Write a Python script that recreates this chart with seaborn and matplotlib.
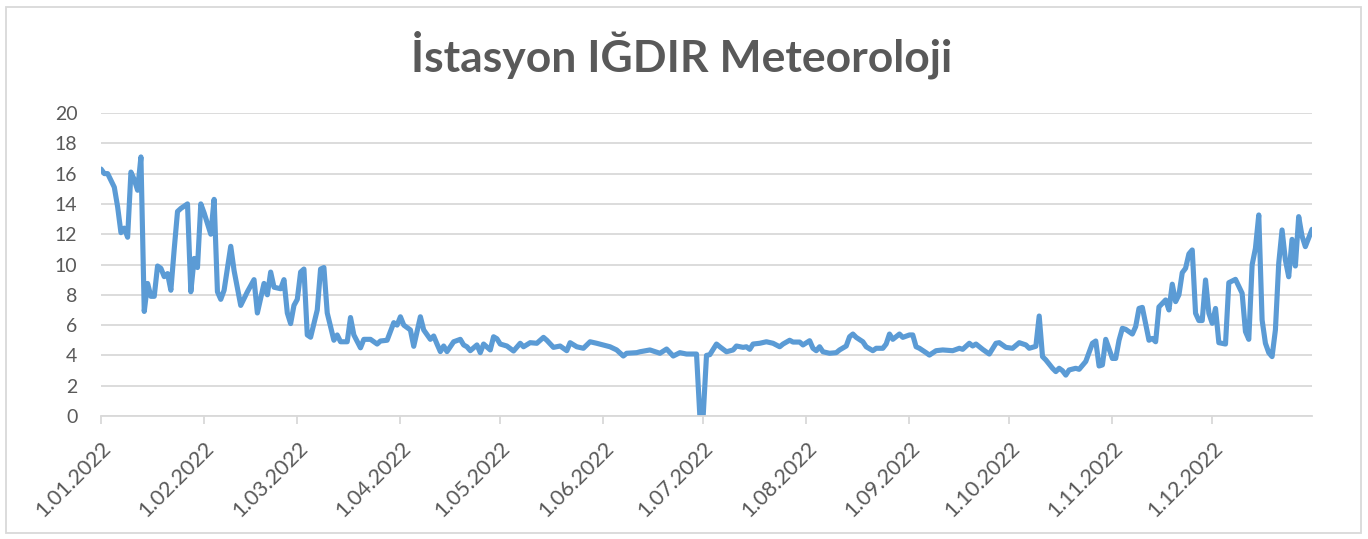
import matplotlib
matplotlib.use("Agg")
import matplotlib.pyplot as plt
import matplotlib.dates as mdates
import matplotlib.patches as patches
import seaborn as sns
import pandas as pd
import numpy as np

title = "İstasyon IĞDIR Meteoroloji"

day_offsets = [0, 1, 2, 4, 5, 6, 7, 8, 9, 10, 11, 12, 13, 14, 15, 16, 17, 18, 19, 20,
               21, 22, 23, 24, 26, 27, 28, 29, 30, 31, 33, 34, 35, 36, 37, 39, 40, 42, 44, 46,
               47, 49, 50, 51, 52, 54, 55, 56, 57, 58, 59, 60, 61, 62, 63, 65, 66, 67, 68, 70,
               71, 72, 74, 75, 76, 78, 79, 81, 83, 84, 86, 88, 89, 90, 91, 93, 94, 96, 97, 99,
               100, 101, 102, 103, 104, 106, 108, 109, 110, 111, 113, 114, 115, 117, 118, 119, 120, 122, 124, 126,
               127, 129, 131, 133, 134, 136, 138, 140, 141, 143, 145, 147, 149, 153, 155, 157, 158, 161, 162, 165,
               168, 170, 172, 174, 176, 179, 180, 181, 182, 183, 185, 186, 188, 190, 191, 193, 194, 195, 196, 198,
               200, 202, 204, 205, 207, 208, 210, 211, 213, 214, 215, 216, 217, 219, 221, 222, 224, 225, 226, 227,
               229, 230, 232, 233, 235, 236, 237, 238, 240, 241, 243, 244, 245, 246, 248, 249, 251, 253, 256, 258,
               259, 261, 262, 263, 265, 267, 269, 270, 272, 274, 276, 278, 279, 281, 282, 283, 284, 286, 287, 288,
               289, 290, 291, 293, 294, 296, 298, 299, 300, 301, 302, 304, 305, 306, 307, 308, 310, 311, 312, 313,
               315, 316, 317, 318, 320, 321, 322, 323, 324, 325, 326, 327, 328, 329, 330, 331, 332, 333, 334, 335,
               336, 338, 339, 341, 343, 344, 345, 346, 347, 348, 349, 350, 351, 352, 353, 354, 355, 356, 357, 358,
               359, 360, 361, 362, 364]

values = [16.3, 16.0, 16.0, 15.1, 13.8, 12.1, 12.4, 11.8, 16.1, 15.6, 14.9, 17.1, 6.9, 8.75, 7.9, 7.9, 9.9, 9.75, 9.2, 9.4,
          8.3, 11.0, 13.5, 13.7, 14.0, 8.2, 10.4, 9.8, 14.0, 13.4, 12.0, 14.3, 8.2, 7.7, 8.3, 11.2, 9.6, 7.3, 8.2, 9.0,
          6.8, 8.75, 8.0, 9.5, 8.5, 8.4, 9.0, 6.8, 6.1, 7.3, 7.7, 9.5, 9.7, 5.35, 5.2, 7.0, 9.7, 9.8, 6.8, 5.0,
          5.35, 4.9, 4.9, 6.5, 5.35, 4.5, 5.06, 5.06, 4.75, 4.95, 5.0, 6.16, 6.0, 6.55, 6.0, 5.68, 4.6, 6.55, 5.68, 5.06,
          5.28, 4.75, 4.25, 4.62, 4.25, 4.9, 5.06, 4.69, 4.57, 4.31, 4.69, 4.18, 4.75, 4.36, 5.23, 5.1, 4.75, 4.62, 4.29, 4.8,
          4.57, 4.84, 4.8, 5.19, 5.0, 4.53, 4.62, 4.31, 4.84, 4.57, 4.47, 4.9, 4.8, 4.57, 4.36, 3.96, 4.14, 4.18, 4.24, 4.36,
          4.14, 4.42, 3.96, 4.18, 4.09, 4.09, 0.0, 0.0, 4.0, 4.05, 4.75, 4.57, 4.24, 4.36, 4.62, 4.53, 4.57, 4.4, 4.75, 4.8,
          4.9, 4.8, 4.57, 4.75, 5.0, 4.88, 4.88, 4.69, 4.97, 4.47, 4.31, 4.57, 4.24, 4.14, 4.18, 4.36, 4.62, 5.23, 5.41, 5.19,
          4.9, 4.57, 4.31, 4.47, 4.47, 4.75, 5.41, 5.06, 5.41, 5.19, 5.35, 5.35, 4.57, 4.47, 4.18, 4.02, 4.31, 4.36, 4.31, 4.47,
          4.4, 4.8, 4.62, 4.75, 4.4, 4.09, 4.8, 4.84, 4.53, 4.47, 4.84, 4.69, 4.47, 4.6, 6.6, 3.92, 3.7, 3.15, 2.93, 3.15,
          2.99, 2.7, 3.04, 3.15, 3.08, 3.6, 4.8, 4.95, 3.3, 3.37, 5.06, 3.8, 3.8, 5.0, 5.79, 5.72, 5.41, 5.9, 7.1, 7.17,
          5.0, 5.12, 4.9, 7.2, 7.66, 7.0, 8.7, 7.55, 8.0, 9.46, 9.75, 10.7, 10.96, 6.78, 6.3, 6.3, 8.98, 6.78, 6.12, 7.1,
          4.84, 4.75, 8.8, 9.02, 8.1, 5.57, 5.06, 9.97, 11.07, 13.27, 6.34, 4.8, 4.18, 3.92, 5.68, 10.08, 12.28, 10.3, 9.19, 11.66,
          9.9, 13.16, 11.88, 11.18, 12.32]

y_ticks = list(range(0, 21, 2))
month_starts = pd.date_range("2022-01-01", "2022-12-01", freq="MS")
month_labels = [f"{d.day}.{d.month:02d}.{d.year}" for d in month_starts]

df = pd.DataFrame({
    "date": pd.Timestamp("2022-01-01") + pd.to_timedelta(day_offsets, unit="D"),
    "value": values,
})

sns.set_theme(style="white")
plt.rcParams["font.family"] = ["Lato", "DejaVu Sans"]

fig = plt.figure(figsize=(13.68, 5.39), dpi=100)
ax = fig.add_axes([101 / 1368, 1 - 416 / 539, (1312 - 101) / 1368, (416 - 113) / 539])

sns.lineplot(data=df, x="date", y="value", ax=ax, color="#5B9BD5", linewidth=3.7)

ax.set_xlim(pd.Timestamp("2022-01-01"), pd.Timestamp("2022-12-31"))
ax.set_ylim(0, 20)
ax.set_yticks(y_ticks)
ax.set_yticklabels([str(v) for v in y_ticks], color="#595959", fontsize=14)
ax.set_xticks(month_starts)
ax.set_xticklabels(month_labels, rotation=45, ha="right", rotation_mode="anchor",
                   color="#595959", fontsize=15.5)
ax.yaxis.grid(True, color="#D9D9D9", linewidth=1.3)
ax.set_axisbelow(True)
ax.set_xlabel("")
ax.set_ylabel("")
for s in ["left", "right", "top"]:
    ax.spines[s].set_visible(False)
ax.spines["bottom"].set_color("#D9D9D9")
ax.spines["bottom"].set_linewidth(1.3)
ax.tick_params(axis="x", which="both", bottom=True, length=6, width=1.3, color="#D9D9D9", pad=10)
ax.tick_params(axis="y", length=0, pad=17)

fig.text(682 / 1368, 1 - 55 / 539, title, ha="center", va="center",
         fontsize=32, fontweight="bold", color="#595959")

fig.patches.append(patches.Rectangle((6 / 1368, 6 / 539), 1355 / 1368, 526 / 539,
                                     transform=fig.transFigure, fill=False,
                                     edgecolor="#D9D9D9", linewidth=1.3))

fig.savefig("out.png", dpi=100)
